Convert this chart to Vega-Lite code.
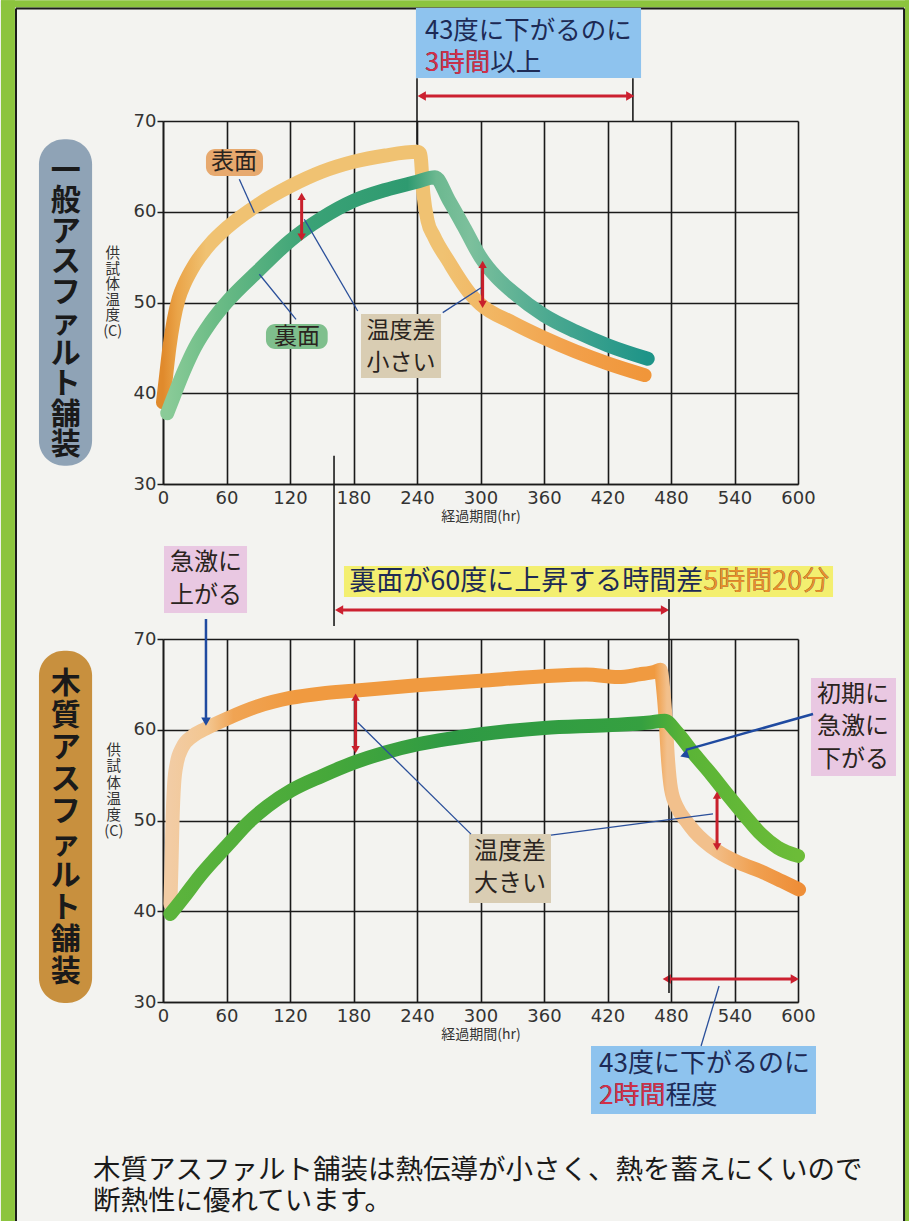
{
  "$schema": "https://vega.github.io/schema/vega-lite/v6.json",
  "background": "#f3f3f0",
  "padding": 0,
  "autosize": {"type": "pad"},
  "spacing": 155,
  "bounds": "flush",
  "config": {
    "font": "Noto Sans CJK JP",
    "view": {"stroke": null},
    "axis": {"labelFont": "DejaVu Sans", "titleFont": "Noto Sans CJK JP"}
  },
  "vconcat": [
    {
      "width": 635,
      "height": 363,
      "encoding": {
        "x": {"field": "x", "type": "quantitative", "scale": {"domain": [0, 600], "nice": false, "zero": false},
          "axis": {"values": [0, 60, 120, 180, 240, 300, 360, 420, 480, 540, 600], "grid": true, "gridColor": "#1a1a1a", "gridWidth": 1.6, "domainColor": "#1a1a1a", "domainWidth": 1.6, "ticks": false, "labelFontSize": 18, "labelColor": "#333333", "labelPadding": 5, "labelFlush": false, "labelOverlap": false, "title": "経過期間(hr)", "titleFontSize": 14, "titleFontWeight": "normal", "titleColor": "#333333", "titlePadding": 2}},
        "y": {"field": "y", "type": "quantitative", "scale": {"domain": [30, 70], "nice": false, "zero": false},
          "axis": {"values": [30, 40, 50, 60, 70], "grid": true, "gridColor": "#1a1a1a", "gridWidth": 1.6, "domainColor": "#1a1a1a", "domainWidth": 1.6, "ticks": true, "tickSize": 6, "tickColor": "#1a1a1a", "tickWidth": 1.5, "labelFontSize": 18, "labelColor": "#333333", "labelPadding": 1, "labelOverlap": false, "title": null}}
      },
      "layer": [
        {
          "data": {"values": [
            {"x": -153.1, "x2": -139.9, "y": 83.3, "y2": -51.4},
            {"x": -153.1, "x2": 705.9, "y": 83.3, "y2": 82.5},
            {"x": 701.1, "x2": 705.9, "y": 83.3, "y2": -51.4}
          ]},
          "mark": {"type": "rect", "color": "#8cc43e"},
          "encoding": {"x2": {"field": "x2"}, "y2": {"field": "y2"}}
        },
        {
          "data": {"values": [
            {"x": -138.9, "y": 82.4, "y2": -51.4},
            {"x": 700.2, "y": 82.4, "y2": -51.4}
          ]},
          "mark": {"type": "rule", "color": "#1a1a1a", "strokeWidth": 2},
          "encoding": {"y2": {"field": "y2"}}
        },
        {
          "data": {"values": [{"x": -138.9, "x2": 700.2, "y": 82.4}]},
          "mark": {"type": "rule", "color": "#1a1a1a", "strokeWidth": 2},
          "encoding": {"x2": {"field": "x2"}}
        },
        {
          "data": {"values": [{"x": -117.2, "x2": -67.0, "y": 68.0, "y2": 32.0}]},
          "mark": {"type": "rect", "color": "#8fa3b6", "cornerRadius": 25},
          "encoding": {"x2": {"field": "x2"}, "y2": {"field": "y2"}}
        },
        {
          "data": {"values": [{"x": -92.0, "y": 64.5, "label": "一\n般\nア\nス\nフ\nァ\nル\nト\n舗\n装"}]},
          "mark": {"type": "text", "fontSize": 30, "fontWeight": "bold", "lineHeight": 30.5, "lineBreak": "\n", "align": "center", "baseline": "middle", "color": "#1a1a1a"},
          "encoding": {"text": {"field": "label"}}
        },
        {
          "data": {"values": [{"x": -47.5, "y": 55.34, "label": "供\n試\n体\n温\n度\n(C)"}]},
          "mark": {"type": "text", "fontSize": 14.5, "lineHeight": 15.5, "lineBreak": "\n", "align": "center", "baseline": "middle", "color": "#333333"},
          "encoding": {"text": {"field": "label"}}
        },
        {
          "data": {"values": [{"x": 239.0, "x2": 451.7, "y": 82.45, "y2": 74.74}]},
          "mark": {"type": "rect", "color": "#8ec3ee"},
          "encoding": {"x2": {"field": "x2"}, "y2": {"field": "y2"}}
        },
        {
          "data": {"values": [
            {"x": 247.6, "y": 79.92, "label": "43度に下がるのに"},
            {"x": 247.6, "y": 76.39, "label": "3時間以上"}
          ]},
          "mark": {"type": "text", "fontSize": 25.5, "align": "left", "baseline": "middle", "color": "#1d2a55"},
          "encoding": {"text": {"field": "label"}}
        },
        {
          "data": {"values": [{"x": 247.6, "y": 76.39, "label": "3時間"}]},
          "mark": {"type": "text", "fontSize": 25.5, "align": "left", "baseline": "middle", "color": "#d23048"},
          "encoding": {"text": {"field": "label"}}
        },
        {
          "data": {"values": [
            {"x": 240.0, "y": 74.7, "y2": 67.4},
            {"x": 444.0, "y": 74.7, "y2": 70.0},
            {"x": 161.6, "y": 33.1, "y2": 14.35}
          ]},
          "mark": {"type": "rule", "color": "#1a1a1a", "strokeWidth": 1.6},
          "encoding": {"y2": {"field": "y2"}}
        },
        {
          "data": {"values": [{"x": 243.5, "x2": 442.0, "y": 72.75}]},
          "mark": {"type": "rule", "color": "#cc2030", "strokeWidth": 3},
          "encoding": {"x2": {"field": "x2"}}
        },
        {
          "data": {"values": [{"x": 244.5, "y": 72.75}]},
          "mark": {"type": "point", "shape": "triangle-left", "filled": true, "size": 90, "color": "#cc2030", "opacity": 1},
          "encoding": {}
        },
        {
          "data": {"values": [{"x": 441.5, "y": 72.75}]},
          "mark": {"type": "point", "shape": "triangle-right", "filled": true, "size": 90, "color": "#cc2030", "opacity": 1},
          "encoding": {}
        },
        {
          "data": {"values": [
            {"x": 0, "y": 39}, {"x": 3, "y": 42}, {"x": 6, "y": 45}, {"x": 10, "y": 48}, {"x": 15, "y": 50.5},
            {"x": 20, "y": 52}, {"x": 30, "y": 54.2}, {"x": 45, "y": 56.5}, {"x": 60, "y": 58.2}, {"x": 90, "y": 60.8},
            {"x": 120, "y": 62.8}, {"x": 150, "y": 64.4}, {"x": 180, "y": 65.5}, {"x": 210, "y": 66.2}, {"x": 240, "y": 66.6},
            {"x": 243, "y": 66.4}, {"x": 246, "y": 62}, {"x": 250, "y": 59}, {"x": 256, "y": 57.3}, {"x": 270, "y": 54.5},
            {"x": 290, "y": 51}, {"x": 300, "y": 49.8}, {"x": 330, "y": 47.8}, {"x": 360, "y": 46.1}, {"x": 390, "y": 44.6},
            {"x": 420, "y": 43.3}, {"x": 455, "y": 42}
          ]},
          "mark": {"type": "line", "strokeWidth": 14, "strokeCap": "round", "strokeJoin": "round", "interpolate": "monotone",
            "stroke": {"gradient": "linear", "x1": 0, "y1": 0, "x2": 1, "y2": 0, "stops": [
              {"offset": 0, "color": "#e08a2c"}, {"offset": 0.03, "color": "#eaa448"}, {"offset": 0.09, "color": "#f0c272"},
              {"offset": 0.58, "color": "#f0c272"}, {"offset": 0.7, "color": "#f2b460"}, {"offset": 0.85, "color": "#f2a04a"},
              {"offset": 1, "color": "#f0963a"}]}},
          "encoding": {}
        },
        {
          "data": {"values": [
            {"x": 4, "y": 37.8}, {"x": 10, "y": 39.6}, {"x": 20, "y": 42.5}, {"x": 30, "y": 45}, {"x": 45, "y": 47.8},
            {"x": 60, "y": 50}, {"x": 90, "y": 53.5}, {"x": 120, "y": 56.8}, {"x": 150, "y": 59.3}, {"x": 180, "y": 61.2},
            {"x": 210, "y": 62.4}, {"x": 240, "y": 63.3}, {"x": 257, "y": 63.8}, {"x": 270, "y": 61.3}, {"x": 285, "y": 58.2},
            {"x": 300, "y": 55}, {"x": 315, "y": 52.8}, {"x": 330, "y": 51.2}, {"x": 360, "y": 48.6}, {"x": 390, "y": 46.8},
            {"x": 420, "y": 45.3}, {"x": 458, "y": 43.8}
          ]},
          "mark": {"type": "line", "strokeWidth": 14, "strokeCap": "round", "strokeJoin": "round", "interpolate": "monotone",
            "stroke": {"gradient": "linear", "x1": 0, "y1": 0, "x2": 1, "y2": 0, "stops": [
              {"offset": 0, "color": "#8acb98"}, {"offset": 0.1, "color": "#6cbc86"}, {"offset": 0.3, "color": "#3aa276"},
              {"offset": 0.5, "color": "#2e9a70"}, {"offset": 0.56, "color": "#6cb890"}, {"offset": 0.63, "color": "#7cc09c"},
              {"offset": 0.8, "color": "#4aa890"}, {"offset": 1, "color": "#1e9488"}]}},
          "encoding": {}
        },
        {
          "data": {"values": [
            {"x": 131, "y": 61.6, "y2": 57.3},
            {"x": 302, "y": 54.1, "y2": 49.9}
          ]},
          "mark": {"type": "rule", "color": "#c8202c", "strokeWidth": 3},
          "encoding": {"y2": {"field": "y2"}}
        },
        {
          "data": {"values": [{"x": 131, "y": 61.7}, {"x": 302, "y": 54.2}]},
          "mark": {"type": "point", "shape": "triangle-up", "filled": true, "size": 70, "color": "#c8202c", "opacity": 1},
          "encoding": {}
        },
        {
          "data": {"values": [{"x": 131, "y": 57.2}, {"x": 302, "y": 49.8}]},
          "mark": {"type": "point", "shape": "triangle-down", "filled": true, "size": 70, "color": "#c8202c", "opacity": 1},
          "encoding": {}
        },
        {
          "data": {"values": [
            {"x": 72.1, "y": 63.58, "x2": 86.3, "y2": 59.9},
            {"x": 125.7, "y": 48.15, "x2": 91.0, "y2": 53.11},
            {"x": 184.0, "y": 49.06, "x2": 133.5, "y2": 59.17},
            {"x": 264.3, "y": 48.88, "x2": 300.5, "y2": 51.63}
          ]},
          "mark": {"type": "rule", "color": "#2a4f9a", "strokeWidth": 1.3},
          "encoding": {"x2": {"field": "x2"}, "y2": {"field": "y2"}}
        },
        {
          "data": {"values": [{"x": 40.6, "x2": 94.5, "y": 66.91, "y2": 63.94}]},
          "mark": {"type": "rect", "color": "#e7a96e", "cornerRadius": 9},
          "encoding": {"x2": {"field": "x2"}, "y2": {"field": "y2"}}
        },
        {
          "data": {"values": [{"x": 97.3, "x2": 155.6, "y": 47.63, "y2": 44.88}]},
          "mark": {"type": "rect", "color": "#7fbf8d", "cornerRadius": 9},
          "encoding": {"x2": {"field": "x2"}, "y2": {"field": "y2"}}
        },
        {
          "data": {"values": [{"x": 187.1, "x2": 262.7, "y": 48.73, "y2": 41.68}]},
          "mark": {"type": "rect", "color": "#d9cdb3"},
          "encoding": {"x2": {"field": "x2"}, "y2": {"field": "y2"}}
        },
        {
          "data": {"values": [
            {"x": 67.1, "y": 65.45, "label": "表面"},
            {"x": 126.5, "y": 46.25, "label": "裏面"},
            {"x": 224.9, "y": 46.86, "label": "温度差\n小さい"}
          ]},
          "mark": {"type": "text", "fontSize": 23, "lineHeight": 32, "lineBreak": "\n", "align": "center", "baseline": "middle", "color": "#2a2420"},
          "encoding": {"text": {"field": "label"}}
        }
      ]
    },
    {
      "width": 635,
      "height": 363,
      "encoding": {
        "x": {"field": "x", "type": "quantitative", "scale": {"domain": [0, 600], "nice": false, "zero": false},
          "axis": {"values": [0, 60, 120, 180, 240, 300, 360, 420, 480, 540, 600], "grid": true, "gridColor": "#1a1a1a", "gridWidth": 1.6, "domainColor": "#1a1a1a", "domainWidth": 1.6, "ticks": false, "labelFontSize": 18, "labelColor": "#333333", "labelPadding": 5, "labelFlush": false, "labelOverlap": false, "title": "経過期間(hr)", "titleFontSize": 14, "titleFontWeight": "normal", "titleColor": "#333333", "titlePadding": 2}},
        "y": {"field": "y", "type": "quantitative", "scale": {"domain": [30, 70], "nice": false, "zero": false},
          "axis": {"values": [30, 40, 50, 60, 70], "grid": true, "gridColor": "#1a1a1a", "gridWidth": 1.6, "domainColor": "#1a1a1a", "domainWidth": 1.6, "ticks": true, "tickSize": 6, "tickColor": "#1a1a1a", "tickWidth": 1.5, "labelFontSize": 18, "labelColor": "#333333", "labelPadding": 1, "labelOverlap": false, "title": null}}
      },
      "layer": [
        {
          "data": {"values": [{"x": -117.2, "x2": -67.0, "y": 68.7, "y2": 29.9}]},
          "mark": {"type": "rect", "color": "#c8903e", "cornerRadius": 25},
          "encoding": {"x2": {"field": "x2"}, "y2": {"field": "y2"}}
        },
        {
          "data": {"values": [{"x": -92.0, "y": 65.0, "label": "木\n質\nア\nス\nフ\nァ\nル\nト\n舗\n装"}]},
          "mark": {"type": "text", "fontSize": 30, "fontWeight": "bold", "lineHeight": 32, "lineBreak": "\n", "align": "center", "baseline": "middle", "color": "#1a1a1a"},
          "encoding": {"text": {"field": "label"}}
        },
        {
          "data": {"values": [{"x": -46.5, "y": 57.66, "label": "供\n試\n体\n温\n度\n(C)"}]},
          "mark": {"type": "text", "fontSize": 14.5, "lineHeight": 16.3, "lineBreak": "\n", "align": "center", "baseline": "middle", "color": "#333333"},
          "encoding": {"text": {"field": "label"}}
        },
        {
          "data": {"values": [{"x": 171.0, "x2": 633.1, "y": 78.04, "y2": 74.63}]},
          "mark": {"type": "rect", "color": "#f3ef70"},
          "encoding": {"x2": {"field": "x2"}, "y2": {"field": "y2"}}
        },
        {
          "data": {"values": [{"x": 629.5, "y": 76.28, "label": "裏面が60度に上昇する時間差5時間20分"}]},
          "mark": {"type": "text", "fontSize": 27, "align": "right", "baseline": "middle", "color": "#1d2a55"},
          "encoding": {"text": {"field": "label"}}
        },
        {
          "data": {"values": [{"x": 629.5, "y": 76.28, "label": "5時間20分"}]},
          "mark": {"type": "text", "fontSize": 27, "align": "right", "baseline": "middle", "color": "#e8902a"},
          "encoding": {"text": {"field": "label"}}
        },
        {
          "data": {"values": [{"x": 165.4, "x2": 475.3, "y": 73.2}]},
          "mark": {"type": "rule", "color": "#cc2030", "strokeWidth": 3},
          "encoding": {"x2": {"field": "x2"}}
        },
        {
          "data": {"values": [{"x": 166.4, "y": 73.2}, {"x": 476.0, "y": 32.53}]},
          "mark": {"type": "point", "shape": "triangle-left", "filled": true, "size": 90, "color": "#cc2030", "opacity": 1},
          "encoding": {}
        },
        {
          "data": {"values": [{"x": 474.3, "y": 73.2}, {"x": 597.0, "y": 32.53}]},
          "mark": {"type": "point", "shape": "triangle-right", "filled": true, "size": 90, "color": "#cc2030", "opacity": 1},
          "encoding": {}
        },
        {
          "data": {"values": [{"x": 475.3, "x2": 598.1, "y": 32.53}]},
          "mark": {"type": "rule", "color": "#cc2030", "strokeWidth": 3},
          "encoding": {"x2": {"field": "x2"}}
        },
        {
          "data": {"values": [{"x": 478.1, "y": 74.4, "y2": 31.0}]},
          "mark": {"type": "rule", "color": "#1a1a1a", "strokeWidth": 1.6},
          "encoding": {"y2": {"field": "y2"}}
        },
        {
          "data": {"values": [{"x": 0.94, "x2": 79.4, "y": 80.25, "y2": 72.87}]},
          "mark": {"type": "rect", "color": "#e9c8e2"},
          "encoding": {"x2": {"field": "x2"}, "y2": {"field": "y2"}}
        },
        {
          "data": {"values": [{"x": 612.3, "x2": 692.6, "y": 65.7, "y2": 54.9}]},
          "mark": {"type": "rect", "color": "#e9c8e2"},
          "encoding": {"x2": {"field": "x2"}, "y2": {"field": "y2"}}
        },
        {
          "data": {"values": [{"x": 289.1, "x2": 366.6, "y": 48.51, "y2": 40.91}]},
          "mark": {"type": "rect", "color": "#d9cdb3"},
          "encoding": {"x2": {"field": "x2"}, "y2": {"field": "y2"}}
        },
        {
          "data": {"values": [{"x": 404.4, "x2": 617.0, "y": 25.15, "y2": 17.66}]},
          "mark": {"type": "rect", "color": "#8ec3ee"},
          "encoding": {"x2": {"field": "x2"}, "y2": {"field": "y2"}}
        },
        {
          "data": {"values": [
            {"x": 7, "y": 40.8}, {"x": 8, "y": 45}, {"x": 9, "y": 50}, {"x": 10.5, "y": 54}, {"x": 13, "y": 56.3},
            {"x": 18, "y": 58}, {"x": 28, "y": 59.3}, {"x": 40, "y": 60.1}, {"x": 60, "y": 61.2}, {"x": 90, "y": 62.6},
            {"x": 120, "y": 63.5}, {"x": 150, "y": 64}, {"x": 180, "y": 64.3}, {"x": 240, "y": 64.9}, {"x": 300, "y": 65.4},
            {"x": 360, "y": 65.9}, {"x": 400, "y": 66.1}, {"x": 430, "y": 65.8}, {"x": 450, "y": 66.1}, {"x": 465, "y": 66.4},
            {"x": 470, "y": 66.6}, {"x": 473, "y": 64}, {"x": 475, "y": 61}, {"x": 477, "y": 57}, {"x": 480, "y": 53.5},
            {"x": 486, "y": 51.4}, {"x": 494, "y": 50}, {"x": 502, "y": 48.8}, {"x": 524, "y": 46.6}, {"x": 545, "y": 45.3},
            {"x": 565, "y": 44.4}, {"x": 585, "y": 43.3}, {"x": 601, "y": 42.4}
          ]},
          "mark": {"type": "line", "strokeWidth": 14, "strokeCap": "round", "strokeJoin": "round", "interpolate": "monotone",
            "stroke": {"gradient": "linear", "x1": 0, "y1": 0, "x2": 1, "y2": 0, "stops": [
              {"offset": 0, "color": "#f2cca4"}, {"offset": 0.06, "color": "#f3c690"}, {"offset": 0.1, "color": "#f0a454"},
              {"offset": 0.2, "color": "#f09a40"}, {"offset": 0.77, "color": "#f09a40"}, {"offset": 0.79, "color": "#f2c08c"},
              {"offset": 0.86, "color": "#f2c08c"}, {"offset": 0.93, "color": "#f0a050"}, {"offset": 1, "color": "#ee8e38"}]}},
          "encoding": {}
        },
        {
          "data": {"values": [
            {"x": 7, "y": 39.7}, {"x": 20, "y": 41.6}, {"x": 35, "y": 43.9}, {"x": 50, "y": 45.9}, {"x": 65, "y": 47.8},
            {"x": 80, "y": 49.7}, {"x": 99, "y": 51.6}, {"x": 121, "y": 53.3}, {"x": 150, "y": 54.9}, {"x": 181, "y": 56.4},
            {"x": 210, "y": 57.5}, {"x": 241, "y": 58.4}, {"x": 270, "y": 59}, {"x": 300, "y": 59.5}, {"x": 360, "y": 60.2},
            {"x": 420, "y": 60.5}, {"x": 460, "y": 60.8}, {"x": 474, "y": 61}, {"x": 485, "y": 59.8}, {"x": 502, "y": 57.3},
            {"x": 518, "y": 55.1}, {"x": 533, "y": 52.9}, {"x": 550, "y": 50.5}, {"x": 565, "y": 48.5}, {"x": 581, "y": 47},
            {"x": 600, "y": 46.1}
          ]},
          "mark": {"type": "line", "strokeWidth": 14, "strokeCap": "round", "strokeJoin": "round", "interpolate": "monotone",
            "stroke": {"gradient": "linear", "x1": 0, "y1": 0, "x2": 1, "y2": 0, "stops": [
              {"offset": 0, "color": "#5cb43c"}, {"offset": 0.25, "color": "#46a83a"}, {"offset": 0.45, "color": "#2e9a44"},
              {"offset": 0.75, "color": "#35a040"}, {"offset": 0.82, "color": "#5ab436"}, {"offset": 1, "color": "#6cbc38"}]}},
          "encoding": {}
        },
        {
          "data": {"values": [
            {"x": 182, "y": 63.5, "y2": 57.9},
            {"x": 523.5, "y": 52.7, "y2": 47.2}
          ]},
          "mark": {"type": "rule", "color": "#c8202c", "strokeWidth": 3},
          "encoding": {"y2": {"field": "y2"}}
        },
        {
          "data": {"values": [{"x": 182, "y": 63.6}, {"x": 523.5, "y": 52.8}]},
          "mark": {"type": "point", "shape": "triangle-up", "filled": true, "size": 70, "color": "#c8202c", "opacity": 1},
          "encoding": {}
        },
        {
          "data": {"values": [{"x": 182, "y": 57.8}, {"x": 523.5, "y": 47.1}]},
          "mark": {"type": "point", "shape": "triangle-down", "filled": true, "size": 70, "color": "#c8202c", "opacity": 1},
          "encoding": {}
        },
        {
          "data": {"values": [
            {"x": 184.0, "y": 60.8, "x2": 291.0, "y2": 48.5},
            {"x": 366.6, "y": 48.4, "x2": 519.7, "y2": 50.72},
            {"x": 525.4, "y": 31.76, "x2": 508.4, "y2": 25.15}
          ]},
          "mark": {"type": "rule", "color": "#2a4f9a", "strokeWidth": 1.3},
          "encoding": {"x2": {"field": "x2"}, "y2": {"field": "y2"}}
        },
        {
          "data": {"values": [
            {"x": 40.6, "y": 72.2, "x2": 40.6, "y2": 61.3},
            {"x": 614.2, "y": 61.74, "x2": 494.0, "y2": 57.78}
          ]},
          "mark": {"type": "rule", "color": "#1f4aa0", "strokeWidth": 2.5},
          "encoding": {"x2": {"field": "x2"}, "y2": {"field": "y2"}}
        },
        {
          "data": {"values": [{"x": 40.6, "y": 60.9}]},
          "mark": {"type": "point", "shape": "triangle-down", "filled": true, "size": 90, "color": "#1f4aa0", "opacity": 1},
          "encoding": {}
        },
        {
          "data": {"values": [{"x": 492.5, "y": 57.2}]},
          "mark": {"type": "point", "shape": "triangle-left", "angle": -18.7, "filled": true, "size": 90, "color": "#1f4aa0", "opacity": 1},
          "encoding": {}
        },
        {
          "data": {"values": [
            {"x": 40.6, "y": 78.37, "label": "急激に\n上がる"},
            {"x": 652.0, "y": 63.83, "label": "初期に\n急激に\n下がる"},
            {"x": 327.9, "y": 46.53, "label": "温度差\n大きい"}
          ]},
          "mark": {"type": "text", "fontSize": 24, "lineHeight": 32.5, "lineBreak": "\n", "align": "center", "baseline": "middle", "color": "#2a2420"},
          "encoding": {"text": {"field": "label"}}
        },
        {
          "data": {"values": [
            {"x": 412.0, "y": 23.17, "label": "43度に下がるのに"},
            {"x": 412.0, "y": 19.64, "label": "2時間程度"}
          ]},
          "mark": {"type": "text", "fontSize": 26, "align": "left", "baseline": "middle", "color": "#1d2a55"},
          "encoding": {"text": {"field": "label"}}
        },
        {
          "data": {"values": [{"x": 412.0, "y": 19.64, "label": "2時間"}]},
          "mark": {"type": "text", "fontSize": 26, "align": "left", "baseline": "middle", "color": "#d23048"},
          "encoding": {"text": {"field": "label"}}
        },
        {
          "data": {"values": [
            {"x": -66.1, "y": 11.38, "label": "木質アスファルト舗装は熱伝導が小さく、熱を蓄えにくいので"},
            {"x": -66.1, "y": 8.0, "label": "断熱性に優れています。"}
          ]},
          "mark": {"type": "text", "fontSize": 27.5, "align": "left", "baseline": "middle", "color": "#1a1a1a"},
          "encoding": {"text": {"field": "label"}}
        }
      ]
    }
  ]
}
